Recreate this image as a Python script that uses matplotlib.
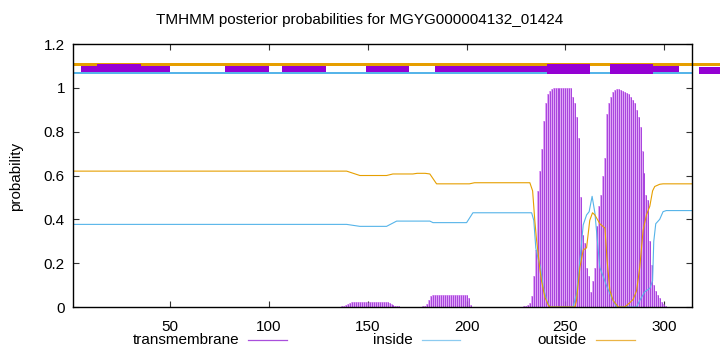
import matplotlib
matplotlib.use("Agg")
import matplotlib.pyplot as plt
from matplotlib.patches import Rectangle
from matplotlib.lines import Line2D

plt.rcParams['font.family'] = ['Liberation Sans', 'DejaVu Sans']

title = "TMHMM posterior probabilities for MGYG000004132_01424"
seq_len = 314

# transmembrane posterior, one value per residue (only non-zero stretch shown)
tm_res = list(range(137, 168)) + list(range(178, 203)) + list(range(229, 302))
tm_val = [
    # 137-167
    0.003, 0.006, 0.010, 0.015, 0.020, 0.024, 0.025, 0.025, 0.025, 0.025,
    0.025, 0.025, 0.025, 0.025, 0.025, 0.025, 0.025, 0.025, 0.025, 0.025,
    0.025, 0.025, 0.024, 0.024, 0.020, 0.012, 0.008, 0.006, 0.004, 0.003,
    0.002,
    # 178-202
    0.003, 0.006, 0.012, 0.030, 0.048, 0.055, 0.055, 0.055, 0.055, 0.055,
    0.055, 0.055, 0.055, 0.055, 0.055, 0.055, 0.055, 0.055, 0.055, 0.055,
    0.055, 0.055, 0.054, 0.040, 0.010,
    # 229-301
    0.003, 0.005, 0.010, 0.020, 0.050, 0.140, 0.260, 0.530, 0.620, 0.720,
    0.850, 0.930, 0.970, 0.985, 0.995, 1.000, 1.000, 1.000, 1.000, 1.000,
    1.000, 1.000, 1.000, 1.000, 0.998, 0.960, 0.930, 0.865, 0.770, 0.500,
    0.330, 0.290, 0.180, 0.140, 0.070, 0.120, 0.180, 0.370, 0.460, 0.510,
    0.600, 0.680, 0.880, 0.930, 0.960, 0.980, 0.990, 0.995, 0.995, 0.990,
    0.985, 0.980, 0.975, 0.970, 0.960, 0.945, 0.930, 0.900, 0.865, 0.820,
    0.710, 0.610, 0.510, 0.490, 0.300, 0.190, 0.100, 0.075, 0.055, 0.040,
    0.025, 0.015, 0.005,
]

# inside / outside posterior, read at the points where the curves bend
in_x = [1, 139.3, 146, 159.5, 164.6, 181.4, 183, 200, 203.2, 232.9, 234, 235,
        236.2, 237.4, 238.8, 240.5, 242.1, 253.9, 255.6, 257.3, 259, 260.7,
        262, 263.5, 264.9, 266, 267.4, 269.1, 271.1, 273.3, 275.9, 286,
        287.6, 290.2, 292.7, 294.1, 294.7, 295.7, 297.7, 299.4, 301, 314]
in_y = [0.377, 0.377, 0.368, 0.368, 0.392, 0.392, 0.385, 0.385, 0.43, 0.43,
        0.395, 0.27, 0.22, 0.18, 0.09, 0.03, 0.0, 0.0, 0.06, 0.21, 0.375, 0.42,
        0.435, 0.505, 0.43, 0.32, 0.18, 0.14, 0.09, 0.045, 0.0, 0.0,
        0.03, 0.07, 0.085, 0.12, 0.30, 0.38, 0.40, 0.435, 0.44, 0.44]

out_x = [1, 139.3, 146, 159.5, 162.7, 172.8, 175, 179, 181.4, 184.8, 201.4,
         204, 232, 233.4, 234.5, 235.4, 236.2, 237.1, 237.9, 239.6, 241.3,
         242.1, 254.8, 255.6, 257.3, 259, 260.7, 262.3, 263.7, 264.9, 267.4,
         270, 271.1, 272.5, 274.1, 276.7, 280, 282.6, 284.3, 286, 287.6,
         289.3, 291, 292.7, 294.1, 295.2, 297.7, 299.4, 314]
out_y = [0.62, 0.62, 0.60, 0.60, 0.607, 0.607, 0.61, 0.61, 0.607, 0.562,
         0.562, 0.567, 0.567, 0.53, 0.395, 0.305, 0.245, 0.17, 0.12, 0.045,
         0.01, 0.0, 0.0, 0.03, 0.18, 0.26, 0.27, 0.395, 0.43, 0.42, 0.38,
         0.36, 0.21, 0.075, 0.03, 0.0, 0.0, 0.02, 0.035, 0.075, 0.18,
         0.35, 0.42, 0.46, 0.53, 0.55, 0.56, 0.562, 0.562]

# predicted topology boxes along the top (start, end)
thin_boxes = [(5, 49.8), (77.9, 100), (106.6, 128.8), (149, 170.8),
              (184, 240.6), (294.4, 307.4)]
raised_box = (13.1, 35.1)
thick_boxes = [(240.6, 262.4), (272.5, 294.4)]
tail_box = (317.5, 328)

purple = '#9400d3'
blue = '#56b4e9'
orange = '#e69f00'

fig = plt.figure(figsize=(7.2, 3.52), dpi=100)
ax = fig.add_axes([0.1018, 0.1278, 0.8592, 0.7472])

ax.bar(tm_res, tm_val, width=1.0, color='#dfa6f5', linewidth=0)
ax.vlines(tm_res, 0, tm_val, color='#a43ddc', linewidth=0.65)
ax.plot(in_x, in_y, color=blue, linewidth=0.8)
ax.plot(out_x, out_y, color=orange, linewidth=0.8)

# top bars
ax.add_patch(Rectangle((1, 1.098), 327, 0.015, color=orange, clip_on=False, lw=0))
ax.add_patch(Rectangle((1, 1.061), seq_len - 1, 0.011, color=blue, clip_on=False, lw=0))
for a, b in thin_boxes:
    ax.add_patch(Rectangle((a, 1.070), b - a, 0.028, color=purple, clip_on=False, lw=0))
ax.add_patch(Rectangle((raised_box[0], 1.097), raised_box[1] - raised_box[0], 0.010,
                       color=purple, clip_on=False, lw=0))
for a, b in thick_boxes:
    ax.add_patch(Rectangle((a, 1.062), b - a, 0.048, color=purple, clip_on=False, lw=0))
ax.add_patch(Rectangle((tail_box[0], 1.062), tail_box[1] - tail_box[0], 0.035,
                       color=purple, clip_on=False, lw=0))

ax.set_xlim(1, seq_len)
ax.set_ylim(0, 1.2)
ax.set_xticks([50, 100, 150, 200, 250, 300])
ax.set_yticks([0, 0.2, 0.4, 0.6, 0.8, 1.0, 1.2])
ax.set_yticklabels(['0', '0.2', '0.4', '0.6', '0.8', '1', '1.2'])
ax.tick_params(direction='in', top=True, right=True, length=4, width=0.8,
               labelsize=11, color='#333333')
ax.tick_params(axis='x', pad=9)
ax.tick_params(axis='y', pad=6)
for s in ax.spines.values():
    s.set_linewidth(1.0)

fig.text(0.5, 0.943, title, ha='center', va='center', fontsize=11)
fig.text(16 / 720, 0.5, 'probability', rotation=90, ha='center', va='center', fontsize=11)

# legend row along the bottom
leg_y = 1 - 340 / 352
for label, x_txt, x0, x1, col in [('transmembrane', 239, 248, 287, '#a94fdc'),
                                  ('inside', 413, 422, 460, '#8ccbf0'),
                                  ('outside', 587, 596, 635, '#ebb445')]:
    fig.text(x_txt / 720, leg_y, label, ha='right', va='center', fontsize=11)
    fig.add_artist(Line2D([x0 / 720, x1 / 720], [leg_y, leg_y], color=col,
                          linewidth=0.9, transform=fig.transFigure))

fig.savefig('out.png', dpi=100)
